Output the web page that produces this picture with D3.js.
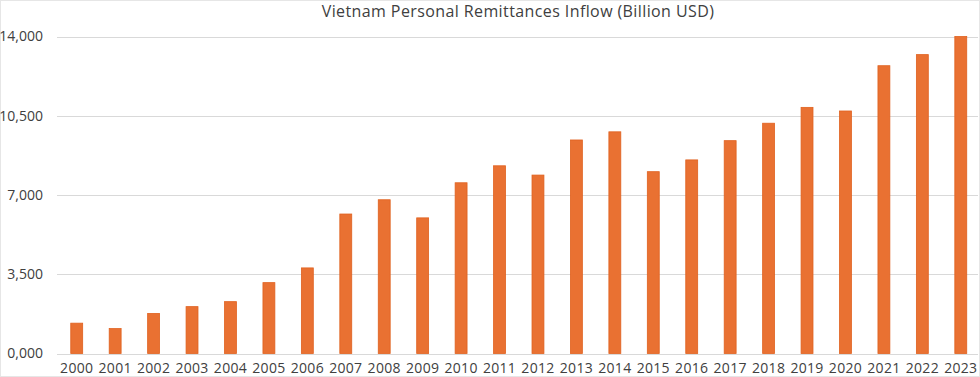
<!DOCTYPE html>
<html>
<head>
<meta charset="utf-8">
<script src="https://cdn.jsdelivr.net/npm/d3@7"></script>
<style>
  body { margin: 0; background: #fff; }
  text { font-family: "Open Sans", sans-serif; fill: #404040; }
</style>
</head>
<body>
<script>
var years = ["2000","2001","2002","2003","2004","2005","2006","2007","2008","2009","2010","2011",
             "2012","2013","2014","2015","2016","2017","2018","2019","2020","2021","2022","2023"];
var remittances = [1340, 1100, 1770, 2070, 2290, 3130, 3780, 6160, 6790, 5990, 7540, 8290,
                   7880, 9430, 9790, 8030, 8550, 9400, 10170, 10870, 10710, 12710, 13200, 14000];
var yTicks = [0, 3500, 7000, 10500, 14000];

var w = 980;
var h = 377;

var svg = d3.select("body")
    .append("svg")
    .attr("width", w)
    .attr("height", h);

// faint frame round the picture
svg.append("rect")
    .attr("x", 0.5).attr("y", 0.5)
    .attr("width", w - 1).attr("height", h - 1)
    .attr("fill", "none")
    .attr("stroke", "#e6e6e6");

var xScale = d3.scaleBand()
    .domain(years)
    .range([57.5, 980])
    .paddingInner(0.69)
    .paddingOuter(0.345);

var yScale = d3.scaleLinear()
    .domain([0, 14000])
    .range([353.5, 36.5]);

// gridlines
svg.selectAll("line.grid")
    .data(yTicks)
    .enter()
    .append("line")
    .attr("class", "grid")
    .attr("x1", 57)
    .attr("x2", 978)
    .attr("y1", function(d) { return Math.round(yScale(d)) + 0.5; })
    .attr("y2", function(d) { return Math.round(yScale(d)) + 0.5; })
    .attr("stroke", "#d9d9d9")
    .attr("stroke-width", 1);

// y labels
svg.selectAll("text.ytick")
    .data(yTicks)
    .enter()
    .append("text")
    .attr("class", "ytick")
    .attr("x", 43)
    .attr("y", function(d) { return yScale(d); })
    .attr("dy", "0.35em")
    .attr("text-anchor", "end")
    .attr("font-size", "14px")
    .text(d3.format("05,"));

// bars
svg.selectAll("rect.bar")
    .data(remittances)
    .enter()
    .append("rect")
    .attr("class", "bar")
    .attr("x", function(d, i) { return xScale(years[i]); })
    .attr("y", function(d) { return yScale(d); })
    .attr("width", xScale.bandwidth())
    .attr("height", function(d) { return yScale(0) - yScale(d); })
    .attr("fill", "#e97132")
    .attr("stroke", "#e0611f")
    .attr("stroke-width", 0.8);

// x labels
svg.selectAll("text.xtick")
    .data(years)
    .enter()
    .append("text")
    .attr("class", "xtick")
    .attr("x", function(d) { return xScale(d) + xScale.bandwidth() / 2; })
    .attr("y", 373)
    .attr("text-anchor", "middle")
    .attr("font-size", "14px")
    .attr("letter-spacing", "0.3px")
    .text(function(d) { return d; });

// title
svg.append("text")
    .attr("x", 518)
    .attr("y", 17)
    .attr("text-anchor", "middle")
    .attr("font-size", "16px")
    .attr("letter-spacing", "0.4px")
    .text("Vietnam Personal Remittances Inflow (Billion USD)");
</script>
</body>
</html>
